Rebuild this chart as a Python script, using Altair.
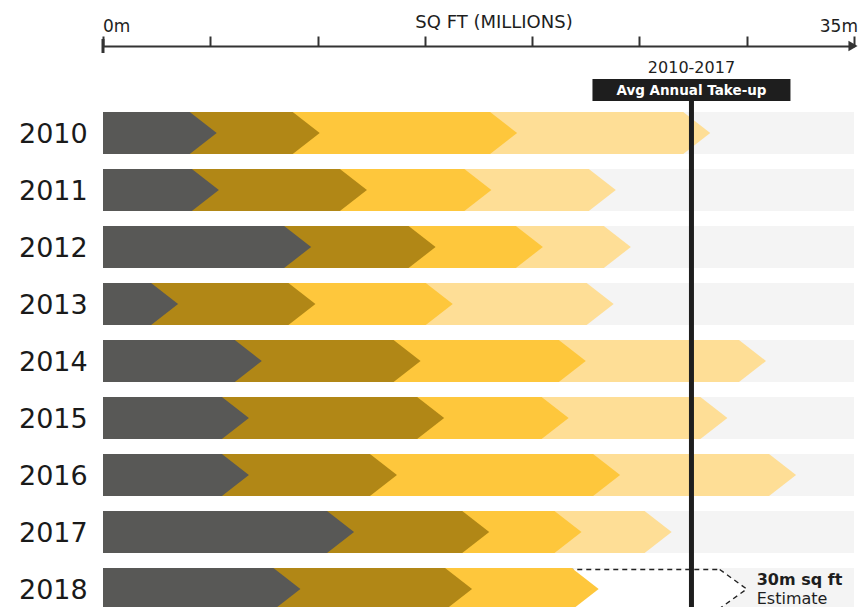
import altair as alt
import pandas as pd

# ---------------- data ----------------
years = ["2010", "2011", "2012", "2013", "2014", "2015", "2016", "2017", "2018"]
q1 = [5.3, 5.4, 9.7, 3.5, 7.4, 6.8, 6.8, 11.7, 9.2]
q2 = [4.8, 6.9, 5.8, 6.4, 7.4, 9.1, 6.9, 6.3, 8.0]
q3 = [9.2, 5.8, 5.0, 6.4, 7.7, 5.8, 10.4, 4.3, 5.9]
q4 = [9.0, 5.8, 4.1, 7.5, 8.4, 7.4, 8.2, 4.2, None]
avg_years = ["2010", "2011", "2012", "2013", "2014", "2015", "2016", "2017"]
estimate_year = "2018"
estimate_total = 30
axis_max = 35
axis_ticks = [0, 5, 10, 15, 20, 25, 30, 35]
axis_end_labels = ["0m", "35m"]
axis_title = "SQ FT (MILLIONS)"
avg_period_label = "2010-2017"
avg_box_label = "Avg Annual Take-up"
estimate_lines = ["30m sq ft", "Estimate"]

# ---------------- styles ----------------
seg_colors = ["#585856", "#B18716", "#FEC73C", "#FEDE96"]
BG = "#F4F4F4"
INK = "#1E1E1E"
FONT = "DejaVu Sans"

W, H = 751, 561
ROW_PX = 57
HALF = 21 / ROW_PX           # half bar height in row units
HALF_EST = 19.5 / ROW_PX     # dashed outline sits just inside the row
TIP = 27 / (W / axis_max)    # chevron point depth in data units
Y_TOP = -87 / ROW_PX
Y_BOT = Y_TOP + H / ROW_PX

# ---------------- tables built from the arrays ----------------
quarters = [q1, q2, q3, q4]
pts = []
for r, yr in enumerate(years):
    cum = 0.0
    for k, q in enumerate(quarters):
        v = q[r]
        if v is None:
            continue
        cum += v
        for dy, dx in [(-HALF, -TIP), (0.0, 0.0), (HALF, -TIP)]:
            pts.append(dict(year=yr, row=r, seg=k, y=r + dy, x=cum + dx))
chev = pd.DataFrame(pts)

er = years.index(estimate_year)
est_start = sum(q[er] for q in quarters if q[er] is not None) - TIP - 0.25
est = pd.DataFrame([
    dict(year=estimate_year, y=er + dy, x=estimate_total + dx, x0=est_start)
    for dy, dx in [(-HALF_EST, -TIP), (0.0, 0.0), (HALF_EST, -TIP)]
])

bg_df = pd.DataFrame(dict(year=years, row=list(range(len(years)))))
bg_df["top"] = bg_df["row"] - HALF
bg_df["bot"] = bg_df["row"] + HALF
bg_df["x0"] = 0
bg_df["x1"] = axis_max

totals = [sum(q[years.index(y)] for q in quarters) for y in avg_years]
avg = sum(totals) / len(totals)

xs = alt.Scale(domain=[0, axis_max], nice=False, zero=False)
ys = alt.Scale(domain=[Y_TOP, Y_BOT], reverse=True, nice=False, zero=False)
x_axis = alt.Axis(orient="top", values=axis_ticks, labels=False, title=None,
                  tickSize=10, tickWidth=2, tickColor="#333333",
                  domainColor="#333333", domainWidth=2, grid=False)


def X(field, **kw):
    return alt.X(field, scale=xs, axis=x_axis, **kw)


def Y(field):
    return alt.Y(field, scale=ys, axis=None)


layers = []

# grey row backgrounds
layers.append(alt.Chart(bg_df).mark_rect(color=BG).encode(
    x=X("x0:Q"), x2="x1:Q", y=Y("top:Q"), y2="bot:Q"))

# dashed estimate chevron
layers.append(alt.Chart(est).mark_area(
    orient="horizontal", fill="white", stroke="#222222", strokeWidth=1.4,
    strokeDash=[5, 4]).encode(
    y=Y("y:Q"), x=X("x:Q", stack=None), x2="x0:Q", detail="year:N"))

# chevron segments, lightest first
for k in [3, 2, 1, 0]:
    layers.append(alt.Chart(chev[chev.seg == k]).mark_area(
        orient="horizontal", color=seg_colors[k]).encode(
        y=Y("y:Q"), x=X("x:Q", stack=None), x2=alt.X2(datum=0),
        detail="year:N"))

# average line
avg_df = pd.DataFrame(dict(avg=[avg], top=[avg_period_label], box=[avg_box_label]))
layers.append(alt.Chart(avg_df).mark_rule(color=INK, strokeWidth=5).encode(
    x=X("avg:Q"), y=alt.value(55), y2=alt.value(H)))
layers.append(alt.Chart(avg_df).mark_rect(color=INK, xOffset=-99, x2Offset=99).encode(
    x=X("avg:Q"), x2="avg:Q", y=alt.value(33), y2=alt.value(55)))
layers.append(alt.Chart(avg_df).mark_text(
    color="white", font=FONT, fontWeight="bold", fontSize=13.5,
    baseline="alphabetic", align="center").encode(
    x=X("avg:Q"), y=alt.value(49), text="box:N"))
layers.append(alt.Chart(avg_df).mark_text(
    color=INK, font=FONT, fontSize=16, baseline="alphabetic", align="center").encode(
    x=X("avg:Q"), y=alt.value(27), text="top:N"))

# year labels
layers.append(alt.Chart(bg_df).mark_text(
    align="left", baseline="alphabetic", dy=10, fontSize=27, font=FONT,
    color="#1A1A1A").encode(x=alt.value(-84), y=Y("row:Q"), text="year:N"))

# estimate text
est_txt = pd.DataFrame(dict(x=[estimate_total] * 2, row=[er] * 2, t=estimate_lines))
layers.append(alt.Chart(est_txt.iloc[[0]]).mark_text(
    align="left", baseline="alphabetic", dx=10, dy=-4, fontSize=16,
    fontWeight="bold", font=FONT, color=INK).encode(
    x=X("x:Q"), y=Y("row:Q"), text="t:N"))
layers.append(alt.Chart(est_txt.iloc[[1]]).mark_text(
    align="left", baseline="alphabetic", dx=10, dy=15, fontSize=16,
    font=FONT, color=INK).encode(
    x=X("x:Q"), y=Y("row:Q"), text="t:N"))

# axis end labels, title, arrow head, zero tick
ends = pd.DataFrame(dict(v=[0, axis_max], t=axis_end_labels))
layers.append(alt.Chart(ends.iloc[[0]]).mark_text(
    align="left", baseline="alphabetic", fontSize=17, font=FONT, color=INK).encode(
    x=X("v:Q"), y=alt.value(-14), text="t:N"))
layers.append(alt.Chart(ends.iloc[[1]]).mark_text(
    align="right", baseline="alphabetic", dx=4, fontSize=17, font=FONT, color=INK).encode(
    x=X("v:Q"), y=alt.value(-14), text="t:N"))
title_df = pd.DataFrame(dict(t=[axis_title]))
layers.append(alt.Chart(title_df).mark_text(
    align="center", baseline="alphabetic", fontSize=18, font=FONT, color=INK).encode(
    x=alt.value(391), y=alt.value(-18), text="t:N"))
layers.append(alt.Chart(ends.iloc[[1]]).mark_point(
    shape="triangle-right", filled=True, size=110, color="#333333", opacity=1,
    xOffset=-1).encode(x=X("v:Q"), y=alt.value(0)))
layers.append(alt.Chart(ends.iloc[[0]]).mark_rule(color="#333333", strokeWidth=3).encode(
    x=X("v:Q"), y=alt.value(-7), y2=alt.value(7)))

chart = alt.layer(*layers).properties(
    width=W, height=H,
    padding={"left": 103, "top": 46, "right": 5, "bottom": 0},
    autosize=alt.AutoSizeParams(type="none"),
).configure_view(stroke=None)

chart.save("out.html", embed_options={"renderer": "svg", "actions": False})
